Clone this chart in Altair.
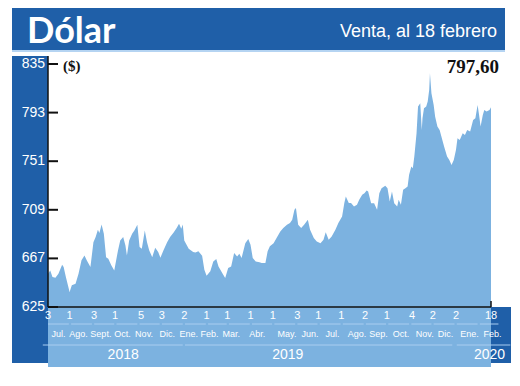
import altair as alt
import pandas as pd

# ---- data (venta, $ por dólar) ----
fechas = [
    "2018-07-03", "2018-07-06", "2018-07-09", "2018-07-13", "2018-07-17", "2018-07-22",
    "2018-07-24", "2018-07-27", "2018-08-01", "2018-08-04", "2018-08-09", "2018-08-13",
    "2018-08-17", "2018-08-21", "2018-08-24", "2018-08-29", "2018-09-02", "2018-09-05",
    "2018-09-08", "2018-09-10", "2018-09-13", "2018-09-16", "2018-09-19", "2018-09-22",
    "2018-09-26", "2018-09-30", "2018-10-05", "2018-10-08", "2018-10-12", "2018-10-15",
    "2018-10-17", "2018-10-20", "2018-10-24", "2018-10-27", "2018-10-31", "2018-11-03",
    "2018-11-06", "2018-11-10", "2018-11-13", "2018-11-16", "2018-11-20", "2018-11-24",
    "2018-11-28", "2018-12-01", "2018-12-05", "2018-12-10", "2018-12-14", "2018-12-19",
    "2018-12-23", "2018-12-26", "2018-12-29", "2018-12-31", "2019-01-02", "2019-01-08",
    "2019-01-14", "2019-01-17", "2019-01-21", "2019-01-26", "2019-01-29", "2019-02-01",
    "2019-02-06", "2019-02-10", "2019-02-14", "2019-02-17", "2019-02-22", "2019-02-26",
    "2019-03-02", "2019-03-06", "2019-03-10", "2019-03-14", "2019-03-17", "2019-03-20",
    "2019-03-25", "2019-03-29", "2019-04-01", "2019-04-04", "2019-04-08", "2019-04-13",
    "2019-04-16", "2019-04-21", "2019-04-24", "2019-04-27", "2019-05-02", "2019-05-06",
    "2019-05-11", "2019-05-15", "2019-05-20", "2019-05-24", "2019-05-27", "2019-05-30",
    "2019-06-01", "2019-06-04", "2019-06-08", "2019-06-12", "2019-06-17", "2019-06-20",
    "2019-06-25", "2019-06-29", "2019-07-04", "2019-07-08", "2019-07-11", "2019-07-15",
    "2019-07-19", "2019-07-24", "2019-07-28", "2019-08-02", "2019-08-05", "2019-08-07",
    "2019-08-11", "2019-08-14", "2019-08-18", "2019-08-22", "2019-08-25", "2019-08-29",
    "2019-09-01", "2019-09-04", "2019-09-06", "2019-09-10", "2019-09-14", "2019-09-18",
    "2019-09-21", "2019-09-24", "2019-09-29", "2019-10-02", "2019-10-05", "2019-10-08",
    "2019-10-11", "2019-10-15", "2019-10-17", "2019-10-20", "2019-10-23", "2019-10-26",
    "2019-10-29", "2019-10-31", "2019-11-03", "2019-11-05", "2019-11-07", "2019-11-10",
    "2019-11-12", "2019-11-15", "2019-11-17", "2019-11-18", "2019-11-20", "2019-11-23",
    "2019-11-25", "2019-11-27", "2019-11-28", "2019-11-30", "2019-12-03", "2019-12-05",
    "2019-12-08", "2019-12-11", "2019-12-14", "2019-12-17", "2019-12-21", "2019-12-24",
    "2019-12-27", "2019-12-30", "2020-01-02", "2020-01-04", "2020-01-07", "2020-01-11",
    "2020-01-14", "2020-01-17", "2020-01-21", "2020-01-25", "2020-01-28", "2020-01-31",
    "2020-02-02", "2020-02-04", "2020-02-07", "2020-02-09", "2020-02-12", "2020-02-16",
    "2020-02-18",
]
valores = [
    653.8, 656.6, 650.9, 650.3, 653.8, 661.5,
    659.5, 650.9, 638.0, 643.7, 645.1, 653.8,
    665.3, 669.6, 665.3, 659.5, 681.0, 685.4,
    691.7, 688.9, 696.3, 688.3, 668.1, 666.7,
    661.0, 656.6, 673.9, 682.5, 685.4, 678.2,
    669.6, 682.5, 688.3, 691.2, 696.1, 676.8,
    675.3, 691.2, 681.0, 673.9, 668.1, 676.2,
    672.5, 667.6, 673.9, 681.0, 685.4, 689.7,
    693.5, 696.9, 692.6, 696.3, 682.5, 675.3,
    672.5, 672.2, 673.1, 669.3, 657.2, 652.0,
    655.8, 664.4, 666.4, 660.1, 654.4, 650.1,
    658.7, 660.1, 671.6, 668.7, 671.0, 667.3,
    680.2, 683.7, 678.8, 667.3, 664.4, 663.6,
    663.0, 663.0, 673.1, 677.4, 680.2, 684.6,
    690.3, 693.2, 696.1, 697.5, 700.4, 709.0,
    710.5, 696.1, 693.2, 696.1, 700.4, 691.8,
    684.6, 681.7, 680.2, 683.1, 689.5, 683.1,
    686.0, 691.8, 697.5, 703.3, 714.8, 720.5,
    714.8, 714.8, 711.9, 713.3, 717.6, 722.0,
    723.4, 725.7, 724.8, 714.7, 714.7, 709.0,
    723.4, 727.7, 729.7, 727.7, 716.2, 724.8,
    714.7, 711.9, 717.6, 713.3, 726.3, 727.7,
    729.1, 739.2, 746.4, 745.0, 755.0, 775.2,
    798.2, 801.1, 778.0, 788.1, 796.7, 798.2,
    802.5, 812.6, 826.9, 809.7, 799.6, 789.5,
    780.9, 778.0, 770.8, 763.6, 755.0, 752.1,
    747.8, 752.1, 760.8, 770.8, 769.4, 775.2,
    773.7, 778.0, 776.6, 786.7, 788.1, 799.6,
    791.0, 780.9, 791.0, 795.3, 793.9, 795.3,
    797.6,
]

y_ticks = [625, 667, 709, 751, 793, 835]

dias_fechas = [
    "2018-07-03", "2018-08-01", "2018-09-03", "2018-10-01", "2018-11-05", "2018-12-03",
    "2019-01-02", "2019-02-01", "2019-03-01", "2019-04-01", "2019-05-01", "2019-06-03",
    "2019-07-01", "2019-08-01", "2019-09-02", "2019-10-01", "2019-11-04", "2019-12-02",
    "2020-01-02", "2020-02-18",
]
dias_labels = ["3", "1", "3", "1", "5", "3", "2", "1", "1", "1", "1", "3",
               "1", "1", "2", "1", "4", "2", "2", "18"]

meses_fechas = [
    "2018-07-17", "2018-08-13", "2018-09-12", "2018-10-11", "2018-11-09", "2018-12-10",
    "2019-01-08", "2019-02-05", "2019-03-06", "2019-04-10", "2019-05-20", "2019-06-20",
    "2019-07-20", "2019-08-22", "2019-09-20", "2019-10-20", "2019-11-21", "2019-12-19",
    "2020-01-20", "2020-02-20",
]
meses_labels = ["Jul.", "Ago.", "Sept.", "Oct.", "Nov.", "Dic.", "Ene.", "Feb.", "Mar.",
                "Abr.", "May.", "Jun.", "Jul.", "Ago.", "Sep.", "Oct.", "Nov.", "Dic.",
                "Ene.", "Feb."]

seg_ini = [
    "2018-07-03", "2018-08-03", "2018-09-03", "2018-10-03", "2018-11-03", "2018-12-03",
    "2019-01-03", "2019-02-03", "2019-03-03", "2019-04-03", "2019-05-03", "2019-06-03",
    "2019-07-03", "2019-08-03", "2019-09-03", "2019-10-03", "2019-11-03", "2019-12-03",
    "2020-01-03", "2020-02-03",
]
seg_fin = [
    "2018-07-31", "2018-08-31", "2018-09-30", "2018-10-31", "2018-11-30", "2018-12-31",
    "2019-01-31", "2019-02-28", "2019-03-31", "2019-04-30", "2019-05-31", "2019-06-30",
    "2019-07-31", "2019-08-31", "2019-09-30", "2019-10-31", "2019-11-30", "2019-12-31",
    "2020-01-31", "2020-02-28",
]

anios = ["2018", "2019", "2020"]
anios_pos = ["2018-10-12", "2019-05-21", "2020-02-16"]
anios_ini = ["2018-06-26", "2019-01-03", "2020-01-03"]
anios_fin = ["2018-12-31", "2019-12-28", "2020-03-15"]

# ---- styling ----
AZUL = "#1f5fa8"
CELESTE = "#7cb2e0"
SANS = "Liberation Sans, Arial, sans-serif"
SERIF = "Liberation Serif, DejaVu Serif, serif"

xs = alt.Scale(domain=["2018-07-03", "2020-02-18"])
ys = alt.Scale(domain=[625, 835], nice=False, zero=False)

serie = pd.DataFrame({"fecha": fechas, "valor": valores})
one = pd.DataFrame({"k": [0]})

# decorations (background bands)
banner = alt.Chart(one).mark_rect(color=AZUL).encode(
    x=alt.value(-36), x2=alt.value(457), y=alt.value(-58), y2=alt.value(-14))
banner_line = alt.Chart(one).mark_rule(color="#9cc6ee", strokeWidth=1.5).encode(
    x=alt.value(-36), x2=alt.value(457), y=alt.value(-13))
left_strip = alt.Chart(one).mark_rect(color=AZUL).encode(
    x=alt.value(-36), x2=alt.value(0), y=alt.value(-8), y2=alt.value(299))
bottom_band = alt.Chart(one).mark_rect(color=AZUL).encode(
    x=alt.value(-36), x2=alt.value(465), y=alt.value(243), y2=alt.value(299))

area = alt.Chart(serie).mark_area(color=CELESTE, opacity=1).encode(
    x=alt.X("fecha:T", scale=xs, axis=None),
    y=alt.Y("valor:Q", scale=ys, axis=None),
)

# axis lines
y_domain = alt.Chart(one).mark_rule(color="#111111", strokeWidth=1.5).encode(
    x=alt.value(0), y=alt.value(-8), y2=alt.value(243))
x_domain = alt.Chart(one).mark_rule(color="#111111", strokeWidth=1.5).encode(
    x=alt.value(0), x2=alt.value(443), y=alt.value(243))

ticks = alt.Chart(pd.DataFrame({"v": y_ticks})).mark_rule(
    color="#111111", strokeWidth=2).encode(
    y=alt.Y("v:Q", scale=ys, axis=None), x=alt.value(0), x2=alt.value(10))

y_labels = alt.Chart(pd.DataFrame({"v": y_ticks})).mark_text(
    color="white", font=SANS, fontSize=14, align="right", baseline="middle").encode(
    y=alt.Y("v:Q", scale=ys, axis=None), x=alt.value(-3), text="v:N")

end_tick = alt.Chart(pd.DataFrame({"f": ["2020-02-18"]})).mark_rule(
    color="#111111", strokeWidth=1.5).encode(
    x=alt.X("f:T", scale=xs, axis=None), y=alt.value(237), y2=alt.value(243))

dias = alt.Chart(pd.DataFrame({"f": dias_fechas, "t": dias_labels})).mark_text(
    color="white", font=SANS, fontSize=11, baseline="middle").encode(
    x=alt.X("f:T", scale=xs, axis=None), y=alt.value(252), text="t:N")

segs = alt.Chart(pd.DataFrame({"a": seg_ini, "b": seg_fin})).mark_rule(
    color="#a9cdf0", strokeWidth=1).encode(
    x=alt.X("a:T", scale=xs, axis=None), x2="b:T", y=alt.value(260))

meses = alt.Chart(pd.DataFrame({"f": meses_fechas, "t": meses_labels})).mark_text(
    color="white", font=SANS, fontSize=9, baseline="middle").encode(
    x=alt.X("f:T", scale=xs, axis=None), y=alt.value(270), text="t:N")

anio_lines = alt.Chart(pd.DataFrame({"a": anios_ini, "b": anios_fin})).mark_rule(
    color="#a9cdf0", strokeWidth=1).encode(
    x=alt.X("a:T", scale=xs, axis=None), x2="b:T", y=alt.value(281))

anio_txt = alt.Chart(pd.DataFrame({"f": anios_pos, "t": anios})).mark_text(
    color="white", font=SANS, fontSize=14, baseline="middle").encode(
    x=alt.X("f:T", scale=xs, axis=None), y=alt.value(291), text="t:N")

titulo = alt.Chart(one).mark_text(
    text="Dólar", color="white", font="Lato, DejaVu Sans, sans-serif", fontSize=36,
    fontWeight="bold", align="left", baseline="alphabetic").encode(
    x=alt.value(-21), y=alt.value(-21))

sub = alt.Chart(one).mark_text(
    text="Venta, al 18 febrero", color="white", font=SANS, fontSize=18,
    align="right", baseline="alphabetic").encode(
    x=alt.value(449), y=alt.value(-27))

pesos = alt.Chart(one).mark_text(
    text="($)", color="#111111", font=SERIF, fontSize=15, fontWeight="bold",
    align="left", baseline="middle").encode(x=alt.value(15), y=alt.value(2))

ultimo = alt.Chart(one).mark_text(
    text="797,60", color="#111111", font=SERIF, fontSize=19, fontWeight="bold",
    align="right", baseline="middle").encode(x=alt.value(451), y=alt.value(3))

chart = alt.layer(
    banner, banner_line, left_strip, bottom_band, area, y_domain, x_domain, ticks,
    y_labels, end_tick, dias, segs, meses, anio_lines, anio_txt, titulo, sub,
    pesos, ultimo,
).properties(
    width=443, height=243,
    padding={"left": 40, "top": 56, "right": 20, "bottom": 60},
    autosize=alt.AutoSizeParams(type="none"),
).configure_view(strokeWidth=0)

chart.save("out.html", embed_options={"renderer": "svg", "actions": False})
